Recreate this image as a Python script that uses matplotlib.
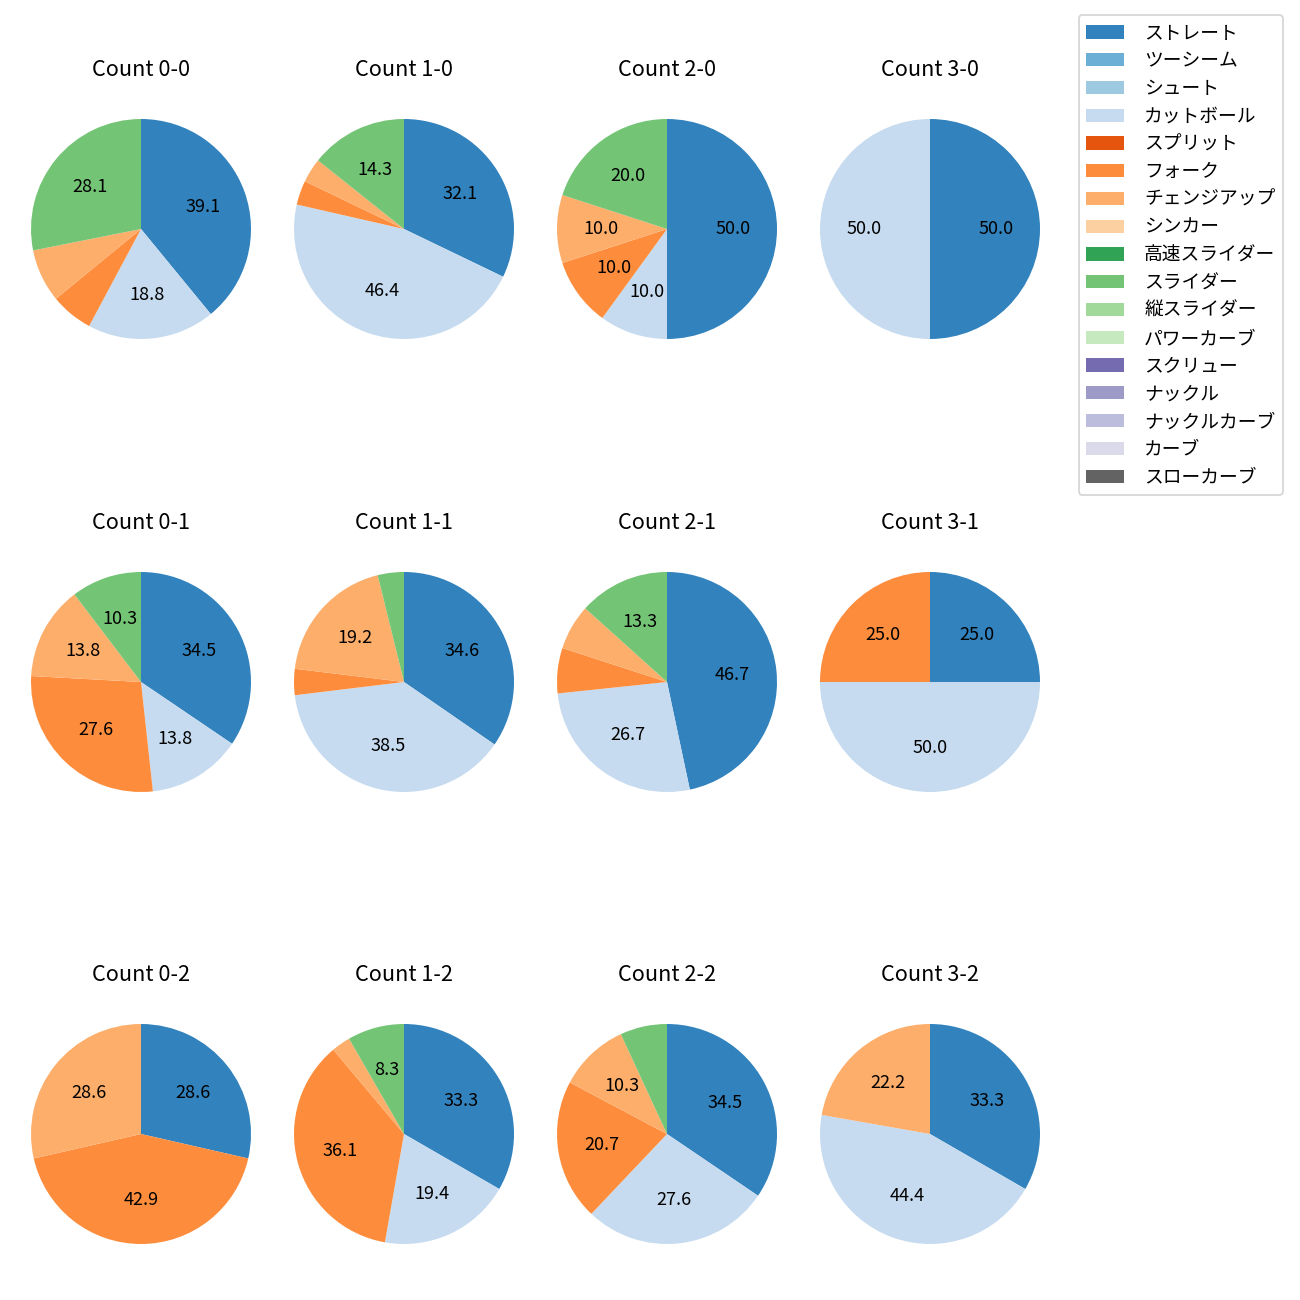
import matplotlib
matplotlib.use("Agg")
import matplotlib.pyplot as plt
from matplotlib.patches import Patch

plt.rcParams['font.family'] = ['Noto Sans CJK JP', 'DejaVu Sans']

pitch_types = ['ストレート', 'ツーシーム', 'シュート', 'カットボール', 'スプリット', 'フォーク',
               'チェンジアップ', 'シンカー', '高速スライダー', 'スライダー', '縦スライダー',
               'パワーカーブ', 'スクリュー', 'ナックル', 'ナックルカーブ', 'カーブ', 'スローカーブ']

count_titles = ['Count 0-0', 'Count 1-0', 'Count 2-0', 'Count 3-0',
                'Count 0-1', 'Count 1-1', 'Count 2-1', 'Count 3-1',
                'Count 0-2', 'Count 1-2', 'Count 2-2', 'Count 3-2']

# pitch counts per ball-strike count (same order as count_titles)
straight = [25, 9, 5, 1, 10, 9, 7, 1, 2, 12, 10, 3]
cutball = [12, 13, 1, 1, 4, 10, 4, 2, 0, 7, 8, 4]
fork = [4, 1, 1, 0, 8, 1, 1, 1, 3, 13, 6, 0]
changeup = [5, 1, 1, 0, 4, 5, 1, 0, 2, 1, 3, 2]
slider = [18, 4, 2, 0, 3, 1, 2, 0, 0, 3, 2, 0]

series = {'ストレート': straight, 'カットボール': cutball, 'フォーク': fork,
          'チェンジアップ': changeup, 'スライダー': slider}

cmap = plt.get_cmap('tab20c')
colors = [cmap(i) for i in range(len(pitch_types))]

fig = plt.figure(figsize=(10, 10), dpi=130)
W = H = 1300.0
r = 110.0
box = 2.5 * r
col_cx = [141, 404, 667, 930]
row_cy = [229, 682, 1134]


def fmt(p):
    return f'{p:.1f}' if p >= 8 else ''


for i, title in enumerate(count_titles):
    row, col = divmod(i, 4)
    cx, cy = col_cx[col], row_cy[row]
    ax = fig.add_axes([(cx - box / 2) / W, 1 - (cy + box / 2) / H, box / W, box / H])
    vals, cols = [], []
    for k, name in enumerate(pitch_types):
        v = series.get(name, [0] * 12)[i]
        if v > 0:
            vals.append(v)
            cols.append(colors[k])
    ax.pie(vals, colors=cols, startangle=90, counterclock=False,
           autopct=fmt, textprops={'fontsize': 10})
    ax.set_title(title, fontsize=12, pad=8.5)

handles = [Patch(facecolor=colors[k], label=name) for k, name in enumerate(pitch_types)]
fig.legend(handles=handles, loc='upper right', bbox_to_anchor=(1283 / W, 1 - 15 / H),
           borderaxespad=0, fontsize=10.4, labelspacing=0.36, handletextpad=1.1)

fig.savefig('out.png', dpi=130)
